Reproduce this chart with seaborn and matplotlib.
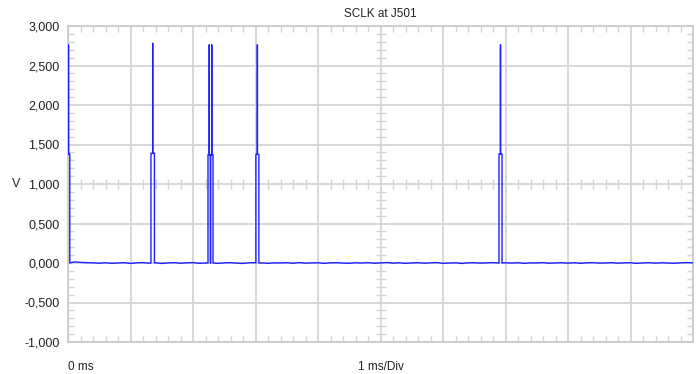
import numpy as np
import pandas as pd
import matplotlib
matplotlib.use("Agg")
import matplotlib.pyplot as plt
import seaborn as sns
from matplotlib.ticker import MultipleLocator, FuncFormatter

# ---------- DATA ----------
TITLE = "SCLK at J501"
Y_UNIT = "V"
X_START_LABEL = "0 ms"
X_SCALE_LABEL = "1 ms/Div"

# baseline noise, one sample every 0.1 ms, in mV
BASE_STEP_MS = 0.1
BASE_MV = [
    6, 14, 8, 4, 2, -3, 3, -4, 0, 4,
    -5, 2, 5, -2, 3, -6, 1, 4, -3, 2,
    5, -4, 0, 3, -5, 2, 4, -2, -6, 3,
    5, 1, -4, 2, 0, 4, -3, 5, -2, 1,
    3, -5, 2, 4, -1, -4, 3, 0, 5, -3,
    2, 6, -2, 3, -5, 1, 4, -3, 2, 5,
    -4, 0, 3, -6, 2, 4, -2, 1, 5, -3,
    3, -1, 4, -5, 2, 0, 5, -3, 1, 4,
    -2, 3, -4, 2, 5, -1, 0, 4, -3, 2,
    3, -5, 1, 4, -2, 3, 0, -4, 2, 5, 3,
]

# clock pulses: centre time (ms), half width (ms), shoulder and peak level (V)
PULSE_T = [0.008, 1.355, 2.26, 2.30, 3.03, 6.92]
PULSE_HALF = [0.02, 0.028, 0.02, 0.02, 0.024, 0.024]
PULSE_STEP = [1.38, 1.39, 1.37, 1.37, 1.375, 1.38]
PULSE_PEAK = [2.76, 2.78, 2.76, 2.76, 2.76, 2.76]

X_MIN, X_MAX = 0, 10
Y_MIN, Y_MAX = -1.0, 3.0

# ---------- BUILD TRACE ----------
base_t = np.arange(len(BASE_MV)) * BASE_STEP_MS
base_v = np.array(BASE_MV) / 1000.0

t_all, v_all = [], []
prev_end = -1.0
for tc, w, st, pk in zip(PULSE_T, PULSE_HALF, PULSE_STEP, PULSE_PEAK):
    m = (base_t > prev_end) & (base_t < tc - w)
    t_all += list(base_t[m])
    v_all += list(base_v[m])
    t_all += [tc - w, tc - w, tc, tc, tc, tc + w, tc + w]
    v_all += [0.0, st, st, pk, st, st, 0.0]
    prev_end = tc + w
m = base_t > prev_end
t_all += list(base_t[m])
v_all += list(base_v[m])

df = pd.DataFrame({"t": t_all, "v": v_all})

# ---------- PLOT ----------
sns.set_style("white")
plt.rcParams["font.family"] = ["Liberation Sans", "DejaVu Sans"]

GRID = "#d4d4d4"
fig = plt.figure(figsize=(6.96, 3.74), dpi=100)
ax = fig.add_axes([68 / 696, 32 / 374, 625 / 696, 316 / 374])

sns.lineplot(data=df, x="t", y="v", estimator=None, sort=False,
             color="#2020ff", lw=1.0, ax=ax, zorder=5)

ax.set_xlim(X_MIN, X_MAX)
ax.set_ylim(Y_MIN, Y_MAX)
ax.xaxis.set_major_locator(MultipleLocator(1))
ax.xaxis.set_minor_locator(MultipleLocator(0.2))
ax.yaxis.set_major_locator(MultipleLocator(0.5))
ax.yaxis.set_minor_locator(MultipleLocator(0.1))
ax.yaxis.set_major_formatter(FuncFormatter(lambda v, p: f"{v:.3f}".replace(".", ",")))
ax.set_xticklabels([])
ax.grid(True, which="major", color=GRID, lw=1.3, zorder=0)
ax.tick_params(which="major", length=0, labelsize=9, pad=6, labelcolor="#222222")
ax.tick_params(which="minor", direction="in", length=4.5, width=1, color=GRID,
               top=True, right=True, bottom=True, left=True)
for s in ax.spines.values():
    s.set_color("#c8c8c8")
    s.set_linewidth(1.2)

# minor ticks across the centre cross
xc = (X_MIN + X_MAX) / 2
yc = (Y_MIN + Y_MAX) / 2
mx = [x for x in np.arange(X_MIN, X_MAX + 1e-9, 0.2) if abs(x - round(x)) > 1e-6]
my = [y for y in np.arange(Y_MIN, Y_MAX + 1e-9, 0.1) if abs(y * 2 - round(y * 2)) > 1e-6]
ax.plot(mx, [yc] * len(mx), ls="none", marker="|", ms=7, mew=1, color=GRID, zorder=1)
ax.plot([xc] * len(my), my, ls="none", marker="_", ms=7, mew=1, color=GRID, zorder=1)

ax.set_xlabel("")
ax.set_ylabel("")
fig.text(16 / 696, 1 - 184 / 374, Y_UNIT, fontsize=9, ha="center", va="center", color="#222222")
fig.text(380 / 696, 1 - 14 / 374, TITLE, fontsize=8.5, ha="center", va="center", color="#222222")
fig.text(68 / 696, 1 - 367 / 374, X_START_LABEL, fontsize=8.5, ha="left", va="center", color="#222222")
fig.text(381 / 696, 1 - 367 / 374, X_SCALE_LABEL, fontsize=8.5, ha="center", va="center", color="#222222")

fig.savefig("out.png", dpi=100)
